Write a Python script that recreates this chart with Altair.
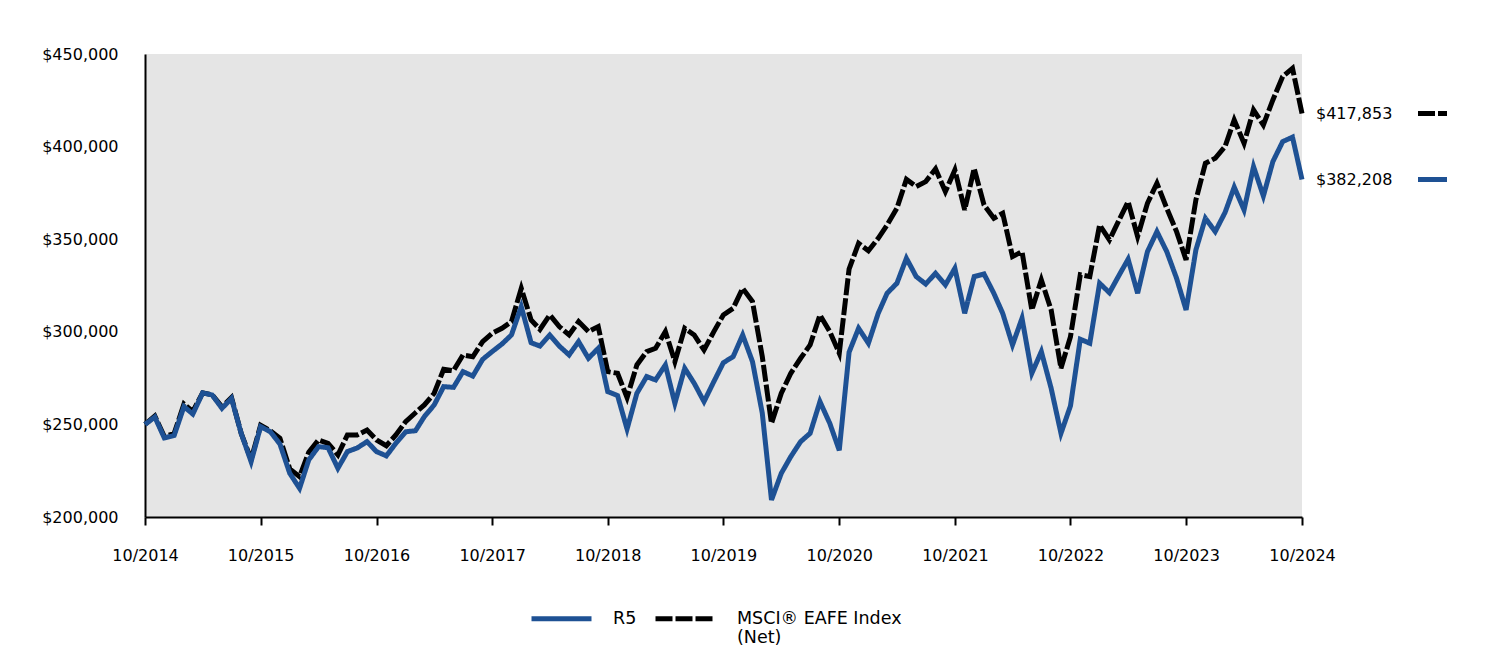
import altair as alt
import pandas as pd

# ---- data ----
months = pd.date_range("2014-10-01", "2024-10-01", freq="MS").strftime("%Y-%m-%dT00:00:00").tolist()

r5 = [250000, 254000, 242700, 244000, 259600, 255600, 267000, 265900, 258700, 264000,
      245000, 229900, 248800, 246000, 239400, 223600, 215500, 230800, 238000, 237400,
      226300, 235300, 237300, 240700, 235300, 233000, 239800, 246000, 246600, 254200,
      260500, 270400, 270000, 278500, 276100, 285100, 289300, 293400, 298300, 313600,
      294100, 292300, 298300, 292300, 287500, 294700, 285700, 291100, 267700, 265600,
      247500, 266800, 275800, 274000, 282100, 261400, 280300, 272200, 262300, 273100,
      283300, 286600, 298300, 283900, 256000, 209200, 223600, 232600, 240700, 245200,
      262300, 250600, 236000, 289000, 301900, 293800, 310000, 320800, 326200, 339700,
      329800, 325800, 331600, 325300, 334300, 310000, 329800, 331200, 320800, 310000,
      292900, 307300, 277600, 289300, 269500, 245200, 260000, 296000, 293800, 326200,
      321100, 329800, 339200, 320800, 343300, 354100, 343300, 328900, 311800, 344200,
      361300, 354100, 364400, 378100, 365800, 389200, 373300, 391900, 402700, 405100,
      382208]

msci = [250000, 254500, 243500, 245000, 261000, 257000, 267000, 266000, 259500, 264500,
        245000, 231000, 249500, 246500, 242500, 226000, 221800, 235000, 241600, 239800,
        233500, 244300, 244300, 247000, 241600, 238500, 244300, 251500, 256300, 260500,
        266800, 279800, 279000, 287500, 286500, 294700, 299200, 301900, 305500, 323500,
        306400, 301300, 309100, 302800, 298300, 305500, 300100, 302800, 278500, 277600,
        264500, 282100, 289300, 291100, 300100, 283900, 301900, 298300, 290200, 300100,
        309100, 312700, 323500, 316300, 286600, 250600, 266800, 277600, 285700, 292900,
        309100, 300100, 288400, 333900, 347800, 343800, 350500, 357700, 366700, 382300,
        378400, 381100, 388000, 375700, 387400, 365800, 388200, 368500, 361300, 364000,
        340600, 343300, 311800, 328000, 311800, 280300, 297400, 330800, 329800, 357700,
        349600, 359500, 370300, 351400, 369400, 380200, 366700, 354100, 338800, 371200,
        391000, 393700, 400000, 414400, 401800, 419800, 411700, 425200, 437800, 442300,
        417853]

series_names = ["R5", "MSCI® EAFE Index (Net)"]
series_colors = ["#1E5194", "#000000"]
series_dashes = [[1, 0], [17, 3]]
tick_years = list(range(2014, 2025))
y_ticks = [200000, 250000, 300000, 350000, 400000, 450000]

FONT = "DejaVu Sans"

df = pd.DataFrame({
    "date": months + months,
    "value": r5 + msci,
    "series": [series_names[0]] * len(r5) + [series_names[1]] * len(msci),
})
df_end = pd.DataFrame({
    "date": [months[-1], months[-1]],
    "value": [r5[-1], msci[-1]],
    "series": series_names,
})

legend = alt.Legend(
    title=None, orient="none", legendX=384, legendY=523, direction="horizontal",
    symbolType="M-1,0.3L1,0.3", symbolSize=3600, symbolStrokeWidth=5,
    labelFontSize=17.5, labelFont=FONT, labelColor="#000000", labelBaseline="top",
    labelExpr="datum.label == 'MSCI® EAFE Index (Net)' ? ['MSCI® EAFE Index', '(Net)'] : [datum.label, '']",
    columnPadding=8, labelOffset=19, padding=0, labelLimit=400,
)

color = alt.Color("series:N", scale=alt.Scale(domain=series_names, range=series_colors), legend=legend)
dash = alt.StrokeDash("series:N", scale=alt.Scale(domain=series_names, range=series_dashes), legend=legend)

x_enc = alt.X(
    "date:T",
    scale=alt.Scale(nice=False),
    axis=alt.Axis(
        title=None,
        values=[alt.DateTime(year=y, month=10, date=1) for y in tick_years],
        format="%m/%Y", labelFlush=False, grid=False,
        tickSize=8, tickWidth=2, tickColor="#000000",
        domainColor="#000000", domainWidth=2,
        labelPadding=22, labelFontSize=16, labelFont=FONT, labelColor="#000000",
    ),
)
y_enc = alt.Y(
    "value:Q",
    scale=alt.Scale(domain=[200000, 450000], nice=False, zero=False),
    axis=alt.Axis(
        title=None, values=y_ticks, format="$,.0f", grid=False, ticks=False,
        domainColor="#000000", domainWidth=2,
        labelPadding=27, labelFontSize=16, labelFont=FONT, labelColor="#000000",
    ),
)

base = alt.Chart(df)
line_msci = base.transform_filter(alt.datum.series == series_names[1]).mark_line(strokeWidth=5).encode(
    x=x_enc, y=y_enc, color=color, strokeDash=dash)
line_r5 = base.transform_filter(alt.datum.series == series_names[0]).mark_line(strokeWidth=5).encode(
    x=x_enc, y=y_enc, color=color, strokeDash=dash)

end_text = alt.Chart(df_end).mark_text(
    align="left", baseline="middle", dx=14, fontSize=16, font=FONT, color="#000000"
).encode(x="date:T", y="value:Q", text=alt.Text("value:Q", format="$,.0f"))

end_rule = alt.Chart(df_end).mark_rule(strokeWidth=5, xOffset=116, x2Offset=145).encode(
    x="date:T", x2="date:T", y="value:Q", color=color, strokeDash=dash)

chart = alt.layer(line_msci, line_r5, end_text, end_rule).properties(
    width=1157, height=463,
    padding={"left": 137, "top": 46, "right": 178, "bottom": 135},
    autosize=alt.AutoSizeParams(type="none"),
).configure_view(fill="#E5E5E5", stroke=None)

chart.save("out.html", embed_options={"renderer": "svg", "actions": False})
